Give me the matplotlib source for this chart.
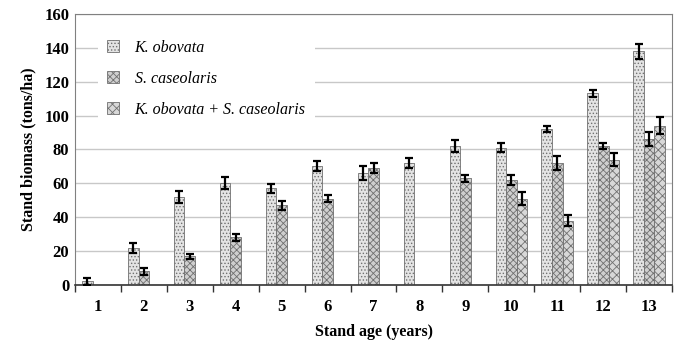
import matplotlib.pyplot as plt
import numpy as np

ages = ['1', '2', '3', '4', '5', '6', '7', '8', '9', '10', '11', '12', '13']
k_obovata = [2, 22, 52, 60, 57, 70, 66, 72, 82, 81, 92, 113, 138]
k_obovata_err = [2, 3, 3.5, 3.5, 2.5, 3, 4, 3, 3.5, 2.5, 2, 2, 4.5]
s_caseolaris = [0, 8, 17, 28, 47, 51, 69, 0, 63, 62, 72, 82, 86]
s_caseolaris_err = [0, 2, 1.5, 2, 2.5, 2, 3, 0, 2, 3, 4, 1.5, 4]
mixed = [0, 0, 0, 0, 0, 0, 0, 0, 0, 51, 38, 74, 94]
mixed_err = [0, 0, 0, 0, 0, 0, 0, 0, 0, 4, 3, 4, 5]

plt.rcParams['font.family'] = ['Liberation Serif', 'DejaVu Serif']
plt.rcParams['hatch.linewidth'] = 0.6

fig = plt.figure(figsize=(6.81, 3.47), dpi=100)
ax = fig.add_axes([0.110, 0.179, 0.877, 0.781])

x = np.arange(len(ages))
w = 0.23

def draw(vals, errs, off, fc, hatch, hc, label):
    v = np.array(vals, dtype=float)
    e = np.array(errs, dtype=float)
    show = v > 0
    plt.rcParams['hatch.color'] = hc
    ax.bar(x[show] + off, v[show], w, color=fc, edgecolor='#707070', linewidth=0.6,
           hatch=hatch, label=label, zorder=2)
    ax.errorbar(x[show] + off, v[show], yerr=e[show], fmt='none', ecolor='black',
                elinewidth=1.6, capsize=3, capthick=1.6, zorder=3)

draw(k_obovata, k_obovata_err, -w, '#e4e4e4', '.....', '#a8a8a8', 'K. obovata')
draw(s_caseolaris, s_caseolaris_err, 0, '#cfcfcf', 'xxxxx', '#8a8a8a', 'S. caseolaris')
draw(mixed, mixed_err, w, '#d8d8d8', 'xxxx', '#7a7a7a', 'K. obovata + S. caseolaris')

ax.set_xlim(-0.5, len(ages) - 0.5)
ax.set_ylim(0, 160)
ax.set_yticks(range(0, 161, 20))
ax.set_xticks(x)
ax.set_xticklabels(ages)
ax.set_xticks(np.arange(-0.5, len(ages), 1), minor=True)
ax.tick_params(axis='x', which='major', length=0, pad=10, labelsize=12)
ax.tick_params(axis='x', which='minor', length=5, width=1, direction='out', color='#333333')
ax.tick_params(axis='y', length=0, labelsize=12, pad=4)
for t in ax.get_xticklabels() + ax.get_yticklabels():
    t.set_fontweight('bold')

ax.grid(axis='y', color='#c8c8c8', linewidth=1, zorder=0)
ax.set_axisbelow(True)
for s in ['top', 'right', 'left']:
    ax.spines[s].set_color('#808080')
ax.spines['bottom'].set_color('#333333')
ax.spines['bottom'].set_linewidth(1.2)

ax.set_xlabel('Stand age (years)', fontsize=11.5, fontweight='bold', labelpad=7)
ax.set_ylabel('Stand biomass (tons/ha)', fontsize=11.5, fontweight='bold', labelpad=6)

leg = ax.legend(loc='upper left', bbox_to_anchor=(0.025, 0.97), frameon=True,
                facecolor='white', edgecolor='none', framealpha=1,
                prop={'style': 'italic', 'size': 11.5}, labelspacing=0.95,
                handlelength=0.7, handleheight=0.8, handletextpad=1.0,
                borderpad=0.6)
leg.set_zorder(5)

plt.savefig('out.png', dpi=100)
